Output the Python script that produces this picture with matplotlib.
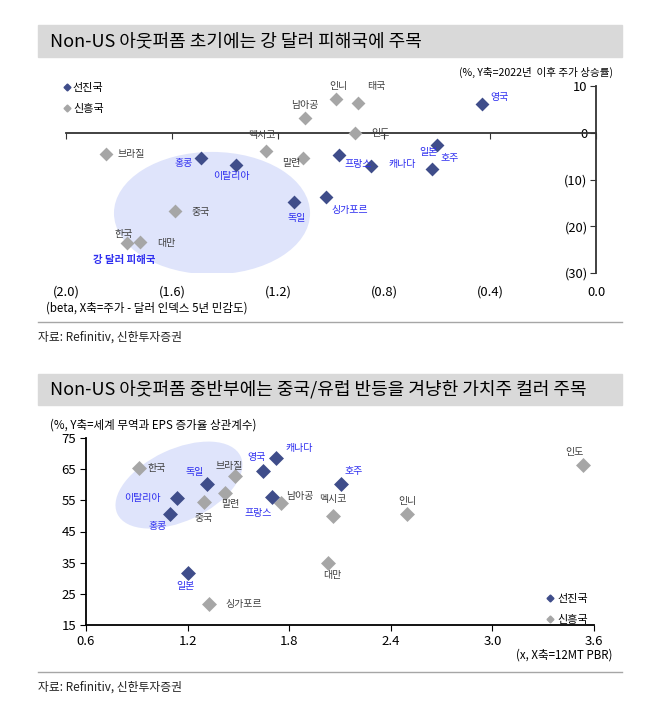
import numpy as np
import matplotlib
matplotlib.use("Agg")
import matplotlib.pyplot as plt
import matplotlib.patches as mpatches
import matplotlib.transforms as mtransforms
from matplotlib.lines import Line2D

plt.rcParams['font.family'] = ['Noto Sans CJK KR', 'DejaVu Sans']

# chart 1 : beta (x) vs return since 2022 (y)
adv1_names = ['영국', '홍콩', '이탈리아', '독일', '싱가포르', '프랑스', '캐나다', '일본', '호주']
adv1_x = [-0.43, -1.49, -1.36, -1.14, -1.02, -0.97, -0.85, -0.60, -0.62]
adv1_y = [6.2, -5.5, -6.8, -14.9, -13.8, -4.7, -7.2, -2.6, -7.7]
em1_names = ['인니', '태국', '남아공', '인도', '멕시코', '브라질', '말련', '중국', '한국', '대만']
em1_x = [-0.98, -0.90, -1.10, -0.91, -1.245, -1.85, -1.105, -1.59, -1.77, -1.72]
em1_y = [7.2, 6.4, 3.2, 0.0, -3.8, -4.5, -5.5, -16.8, -23.6, -23.4]
x1_ticks = [-2.0, -1.6, -1.2, -0.8, -0.4, 0.0]
x1_labels = ['(2.0)', '(1.6)', '(1.2)', '(0.8)', '(0.4)', '0.0']
y1_ticks = [10, 0, -10, -20, -30]
y1_labels = ['10', '0', '(10)', '(20)', '(30)']

# chart 2 : 12MT PBR (x) vs correlation (y)
adv2_names = ['영국', '캐나다', '독일', '이탈리아', '홍콩', '프랑스', '호주', '일본']
adv2_x = [1.645, 1.72, 1.315, 1.137, 1.096, 1.70, 2.106, 1.20]
adv2_y = [64.4, 68.5, 60.2, 55.7, 50.6, 56.0, 60.2, 31.7]
em2_names = ['한국', '중국', '말련', '브라질', '남아공', '멕시코', '인니', '대만', '인도', '싱가포르']
em2_x = [0.913, 1.297, 1.42, 1.48, 1.75, 2.06, 2.496, 2.03, 3.535, 1.325]
em2_y = [65.3, 54.4, 57.3, 62.8, 54.1, 49.9, 50.5, 34.9, 66.3, 21.7]
x2_ticks = [0.6, 1.2, 1.8, 2.4, 3.0, 3.6]
y2_ticks = [15, 25, 35, 45, 55, 65, 75]

# label offsets in pixels (right, up)
off1 = {'영국': (17, 7), '홍콩': (-18, -5), '이탈리아': (-4, -11), '독일': (3, -16),
        '싱가포르': (24, -13), '프랑스': (19, -9), '캐나다': (31, 2), '일본': (-9, -7),
        '호주': (18, 11), '인니': (2, 13), '태국': (19, 17), '남아공': (0, 13),
        '인도': (26, 0), '멕시코': (-4, 16), '브라질': (25, 0), '말련': (-12, -5),
        '중국': (26, -1), '한국': (-3, 9), '대만': (26, -1)}
off2 = {'한국': (18, 0), '독일': (-12, 12), '브라질': (-6, 10), '영국': (-6, 14),
        '캐나다': (23, 10), '이탈리아': (-35, 0), '말련': (5, -11), '프랑스': (-14, -16),
        '남아공': (19, 7), '중국': (0, -16), '홍콩': (-12, -12), '멕시코': (0, 17),
        '호주': (13, 13), '인니': (0, 13), '대만': (4, -12), '인도': (-9, 13),
        '일본': (-2, -13), '싱가포르': (35, 0)}

DARK = '#3f4d8a'
GRAY = '#a6a6a6'
BLUE = '#2f2ff0'
TXT = '#404040'
ELL = '#dfe4fb'
W, H = 654, 724


def fx(px):
    return px / W


def fy(py):
    return 1 - py / H


fig = plt.figure(figsize=(6.54, 7.24), dpi=100)

# title bars and separators
for top, bot, title in [(25, 57, 'Non-US 아웃퍼폼 초기에는 강 달러 피해국에 주목'),
                        (374, 405, 'Non-US 아웃퍼폼 중반부에는 중국/유럽 반등을 겨냥한 가치주 컬러 주목')]:
    fig.patches.append(mpatches.Rectangle((fx(38), fy(bot)), fx(584), (bot - top) / H,
                                          transform=fig.transFigure, color='#d9d9d9', zorder=0))
    fig.text(fx(50), fy((top + bot) / 2), title, fontsize=13, va='center', ha='left', color='black')
for py in [322, 672]:
    fig.add_artist(Line2D([fx(38), fx(622)], [fy(py), fy(py)], color='#a6a6a6', lw=1))
    fig.text(fx(38), fy(py + 15), '자료: Refinitiv, 신한투자증권', fontsize=8.5, va='center', color='#222222')


def put_labels(ax, names, xs, ys, offs, color):
    for n, x, y in zip(names, xs, ys):
        ax.annotate(n, (x, y), xytext=offs[n], textcoords='offset pixels',
                    ha='center', va='center', fontsize=7.2, color=color, zorder=5)


# ---------- chart 1 ----------
ax1 = fig.add_axes([fx(66), fy(273), fx(530), 187 / H])
ax1.set_xlim(-2.0, 0.0)
ax1.set_ylim(-30, 10)
ax1.add_patch(mpatches.Ellipse((-1.449, -17.2), 0.74, 26.2, color=ELL, lw=0, zorder=1))
ax1.scatter(em1_x, em1_y, marker='D', s=50, color=GRAY, zorder=3, linewidths=0)
ax1.scatter(adv1_x, adv1_y, marker='D', s=50, color=DARK, zorder=4, linewidths=0)
put_labels(ax1, adv1_names, adv1_x, adv1_y, off1, BLUE)
put_labels(ax1, em1_names, em1_x, em1_y, off1, TXT)
ax1.text(-1.781, -27.2, '강 달러 피해국', fontsize=7.5, color=BLUE, fontweight='bold',
         ha='center', va='center')

for s in ['top', 'right']:
    ax1.spines[s].set_visible(False)
ax1.spines['bottom'].set_position(('data', 0))
ax1.spines['left'].set_position(('data', 0))
for s in ['bottom', 'left']:
    ax1.spines[s].set_color('#333333')
    ax1.spines[s].set_linewidth(1.3)
ax1.set_xticks(x1_ticks)
ax1.tick_params(axis='x', labelbottom=False, direction='out', length=4, color='#333333')
ax1.set_yticks(y1_ticks, y1_labels)
ax1.tick_params(axis='y', direction='out', length=4, labelsize=9.3, pad=2, color='#333333')
sec = ax1.secondary_xaxis('bottom')
sec.spines['bottom'].set_visible(False)
sec.set_xticks(x1_ticks, x1_labels)
sec.tick_params(length=0, labelsize=9.3, pad=9)
ax1.patch.set_alpha(0)

fig.text(fx(613), fy(72), '(%, Y축=2022년  이후 주가 상승률)', fontsize=7.6, ha='right', va='center')
fig.text(fx(46), fy(308), '(beta, X축=주가 - 달러 인덱스 5년 민감도)', fontsize=8.3, ha='left', va='center')

h1 = [Line2D([], [], marker='D', ls='none', ms=3.5, color=DARK),
      Line2D([], [], marker='D', ls='none', ms=3.5, color=GRAY)]
fig.legend(h1, ['선진국', '신흥국'], loc='upper left', bbox_to_anchor=(fx(64), fy(83)),
           frameon=False, fontsize=8, handlelength=0.6, handletextpad=0.2,
           labelspacing=1.0, borderpad=0, borderaxespad=0)

# ---------- chart 2 ----------
ax2 = fig.add_axes([fx(86), fy(625), fx(508), 187 / H])
ax2.set_xlim(0.6, 3.6)
ax2.set_ylim(15, 75)
ell_tr = fig.dpi_scale_trans + mtransforms.ScaledTranslation(1.149, 59.9, ax2.transData)
ax2.add_patch(mpatches.Ellipse((0, 0), 1.36, 0.72, angle=25, color=ELL, lw=0, zorder=1,
                               transform=ell_tr))
ax2.scatter(em2_x, em2_y, marker='D', s=58, color=GRAY, zorder=3, linewidths=0)
ax2.scatter(adv2_x, adv2_y, marker='D', s=58, color=DARK, zorder=4, linewidths=0)
put_labels(ax2, adv2_names, adv2_x, adv2_y, off2, BLUE)
put_labels(ax2, em2_names, em2_x, em2_y, off2, TXT)

for s in ['top', 'right']:
    ax2.spines[s].set_visible(False)
for s in ['bottom', 'left']:
    ax2.spines[s].set_color('black')
    ax2.spines[s].set_linewidth(1.3)
ax2.set_xticks(x2_ticks, [f'{v:.1f}' for v in x2_ticks])
ax2.set_yticks(y2_ticks)
ax2.tick_params(direction='out', length=4, labelsize=9.5, pad=3)
ax2.patch.set_alpha(0)

fig.text(fx(50), fy(425), '(%, Y축=세계 무역과 EPS 증가율 상관계수)', fontsize=8.3, ha='left', va='center')
fig.text(fx(612), fy(655), '(x, X축=12MT PBR)', fontsize=8.3, ha='right', va='center')

fig.legend(h1, ['선진국', '신흥국'], loc='upper left', bbox_to_anchor=(fx(547), fy(594)),
           frameon=False, fontsize=8, handlelength=0.6, handletextpad=0.3,
           labelspacing=1.0, borderpad=0, borderaxespad=0)

fig.savefig('out.png', dpi=100)
